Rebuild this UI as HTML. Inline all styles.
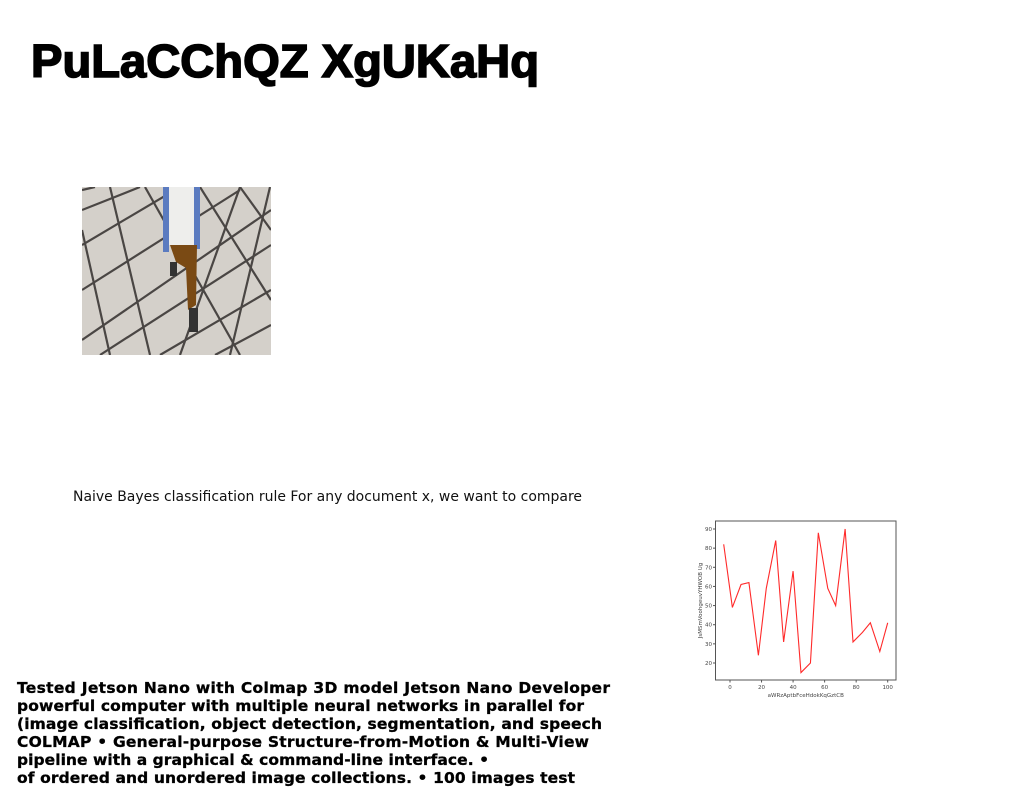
<!DOCTYPE html>
<html><head><meta charset="utf-8"><style>
body{margin:0;width:1024px;height:788px;background:#fff;position:relative;overflow:hidden;font-family:"Liberation Sans",sans-serif}
svg{position:absolute;left:0;top:0}
</style></head><body>
<svg width="1024" height="788">
<text x="31" y="77" font-family="Liberation Sans, sans-serif" font-weight="bold" font-size="46" stroke="#000" stroke-width="1.6" textLength="508" lengthAdjust="spacingAndGlyphs">PuLaCChQZ XgUKaHq</text>
<g>
<clipPath id="pc"><rect x="82" y="187" width="189" height="168"/></clipPath>
<rect x="82" y="187" width="189" height="168" fill="#d4d0ca"/>
<g clip-path="url(#pc)" stroke="#4a4644" stroke-width="2.2">
<line x1="82" y1="210" x2="140" y2="187"/><line x1="82" y1="245" x2="180" y2="187"/>
<line x1="82" y1="290" x2="240" y2="190"/><line x1="82" y1="340" x2="271" y2="210"/>
<line x1="100" y1="355" x2="271" y2="245"/><line x1="160" y1="355" x2="271" y2="290"/>
<line x1="215" y1="355" x2="271" y2="325"/>
<line x1="110" y1="187" x2="150" y2="355"/><line x1="82" y1="230" x2="110" y2="355"/>
<line x1="145" y1="187" x2="240" y2="355"/><line x1="200" y1="187" x2="271" y2="300"/>
<line x1="240" y1="187" x2="271" y2="230"/><line x1="82" y1="190" x2="95" y2="187"/>
<line x1="240" y1="187" x2="180" y2="355"/><line x1="270" y1="187" x2="230" y2="355"/>
</g>
<rect x="167" y="187" width="30" height="58" fill="#eeeeec"/>
<rect x="163" y="187" width="6" height="65" fill="#5b7bc0"/>
<rect x="194" y="187" width="6" height="62" fill="#5b7bc0"/>
<polygon points="170,245 197,245 196,305 188,310 186,268 176,262" fill="#7a4a14"/>
<rect x="170" y="262" width="7" height="14" fill="#333"/>
<rect x="189" y="308" width="9" height="24" fill="#333"/>
</g>
<text x="73" y="501" font-family="DejaVu Sans, sans-serif" font-size="14" fill="#111" textLength="509" lengthAdjust="spacingAndGlyphs">Naive Bayes classification rule For any document x, we want to compare</text>
<g font-family="DejaVu Sans, sans-serif" font-weight="bold" font-size="15.5" fill="#000" stroke="#000" stroke-width="0.3" lengthAdjust="spacingAndGlyphs">
<text x="17" y="693" textLength="593">Tested Jetson Nano with Colmap 3D model Jetson Nano Developer</text>
<text x="17" y="711" textLength="567">powerful computer with multiple neural networks in parallel for</text>
<text x="17" y="729" textLength="585">(image classification, object detection, segmentation, and speech</text>
<text x="17" y="747" textLength="572">COLMAP • General-purpose Structure-from-Motion &amp; Multi-View</text>
<text x="17" y="765" textLength="472">pipeline with a graphical &amp; command-line interface. •</text>
<text x="17" y="783" textLength="558">of ordered and unordered image collections. • 100 images test</text>
</g>
<g id="chart"></g>
</svg>
<script>
const xValues=[-4,1.5,7,12,18,23,29,34,40,45,51,56,62,67,73,78,84,89,95,100];
const yValues=[82,49,61,62,24,59,84,31,68,15,20,88,59,50,90,31,36,41,26,41];
const xTicks=[0,20,40,60,80,100];
const yTicks=[20,30,40,50,60,70,80,90];
const xLabel="aWRzAptbFceHdokKqGztCB";
const yLabel="JsMSmVoohgeuvYHWOB Ug";
const NS="http://www.w3.org/2000/svg";
const g=document.getElementById('chart');
const L=715.5,R=896,T=521,B=680;
const sx=v=>730+(v-0)*(887.7-730)/100;
const sy=v=>663-(v-20)*(663-529)/70;
function mk(t,a){const e=document.createElementNS(NS,t);for(const k in a)e.setAttribute(k,a[k]);g.appendChild(e);return e;}
const box=mk('rect',{x:L,y:T,width:R-L,height:B-T,fill:'none',stroke:'#555','stroke-width':1});


xTicks.forEach(v=>{
 const tk=mk('line',{x1:sx(v),x2:sx(v),y1:B,y2:B+2.5,stroke:'#555'});
 
 
 const t=mk('text',{x:sx(v),y:B+9,'font-size':5.5,'text-anchor':'middle',fill:'#444','font-family':'DejaVu Sans, sans-serif'});
 t.textContent=v;
 
 
});
yTicks.forEach(v=>{
 const tk=mk('line',{x1:L-2.5,x2:L,y1:sy(v),y2:sy(v),stroke:'#555'});
 
 
 const t=mk('text',{x:L-3.5,y:sy(v)+2,'font-size':5.5,'text-anchor':'end',fill:'#444','font-family':'DejaVu Sans, sans-serif'});
 t.textContent=v;
 
 
});
const xl=mk('text',{x:(L+R)/2,y:B+17,'font-size':5.5,'text-anchor':'middle',fill:'#444','font-family':'DejaVu Sans, sans-serif'});
xl.textContent=xLabel;


const yl=mk('text',{x:0,y:0,'font-size':5.5,'text-anchor':'middle',fill:'#444','font-family':'DejaVu Sans, sans-serif',transform:`translate(702,${(T+B)/2}) rotate(-90)`});
yl.textContent=yLabel;


const pts=xValues.map((x,i)=>sx(x)+','+sy(yValues[i])).join(' ');
const line=mk('polyline',{points:pts,fill:'none',stroke:'#ff2a2a','stroke-width':1.1});


</script>
</body></html>
